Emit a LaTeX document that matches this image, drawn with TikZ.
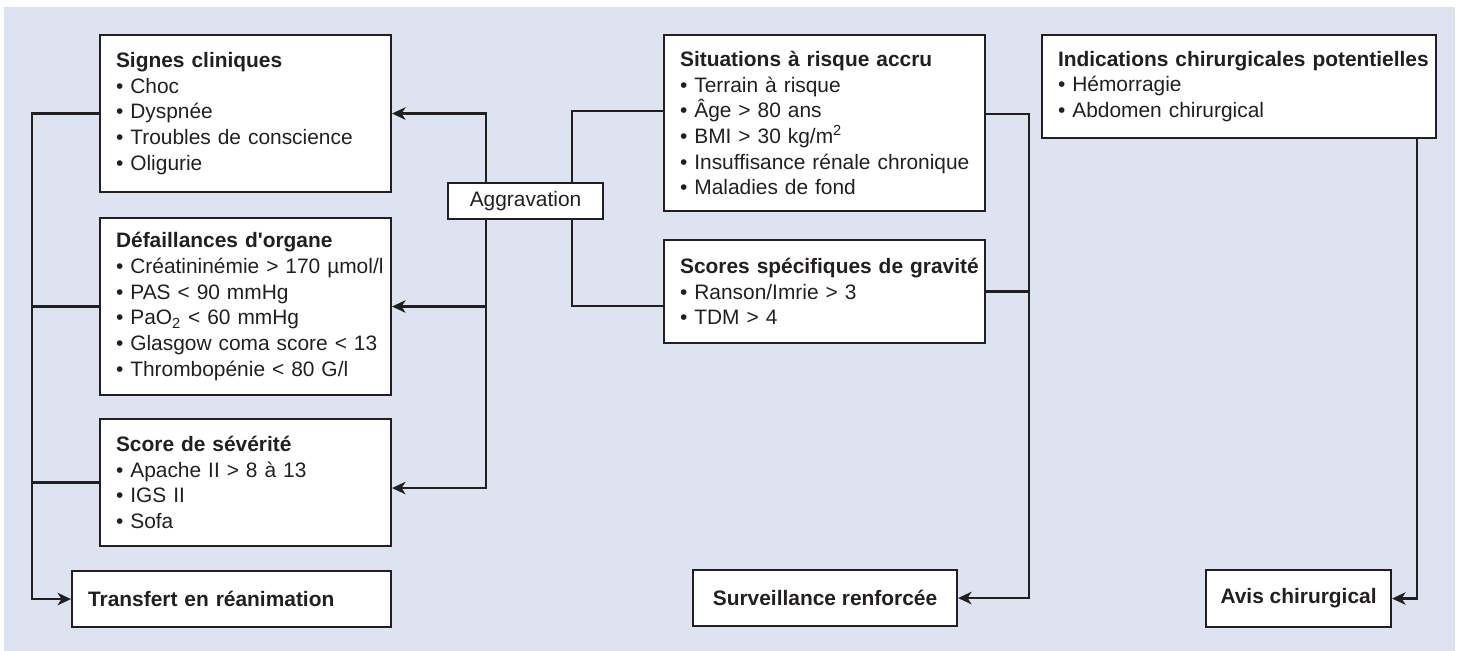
\documentclass[tikz,border=0pt]{standalone}
\usepackage{fontspec}
\setmainfont{Liberation Sans}
\usepackage{tikz}
\usetikzlibrary{arrows.meta}

\definecolor{bgcol}{RGB}{221,227,241}
\definecolor{linec}{RGB}{35,31,32}

\begin{document}
\begin{tikzpicture}[x=0.02cm, y=-0.02cm, line width=1.2pt, color=linec,
  font=\fontsize{11.9}{14.6}\selectfont,
  box/.style={draw=linec, fill=white, anchor=north west, inner xsep=0.32cm, inner ysep=0pt},
  listbox/.style 2 args={box, text width=#1-0.64cm, minimum height=#2, align=left,
    execute at begin node={\rightskip=0pt minus 2cm}},
  endbox/.style 2 args={box, inner xsep=0.2cm, minimum width=#1, minimum height=#2, font=\fontsize{11.9}{14.6}\selectfont\bfseries},
  flow/.style={-{Stealth[length=0.27cm, width=0.25cm, inset=0.08cm]}}]

  \useasboundingbox (0,0) rectangle (1459,651);
  \fill[bgcol] (4,7) rectangle (1455,651);

  % Left column
  \begin{scope}
    \node[listbox={5.82cm}{3.14cm}] (signes) at (99,34)
      {\textbf{Signes cliniques}\\• Choc\\• Dyspnée\\• Troubles de conscience\\• Oligurie};
    \node[listbox={5.82cm}{3.54cm}] (defaill) at (99,217)
      {\textbf{Défaillances d\textquotesingle organe}\\• Créatininémie > 170 µmol/l\\• PAS < 90 mmHg\\• PaO\textsubscript{2} < 60 mmHg\\• Glasgow coma score < 13\\• Thrombopénie < 80 G/l};
    \node[listbox={5.82cm}{2.54cm}] (score) at (99,418)
      {\textbf{Score de sévérité}\\• Apache II > 8 à 13\\• IGS II\\• Sofa};
    \node[listbox={6.38cm}{1.12cm}] (transfert) at (71,570)
      {\textbf{Transfert en réanimation}};

    \coordinate (lbus) at (32,0);
    \draw[flow] (signes.west) -- (signes.west -| lbus) |- (transfert.west);
    \draw (defaill.west) -- (defaill.west -| lbus);
    \draw (score.west) -- (score.west -| lbus);
  \end{scope}

  % Middle column
  \begin{scope}
    \node[box, minimum width=3.1cm, minimum height=0.72cm] (aggrav) at (447,182) {Aggravation};
    \node[listbox={6.42cm}{3.52cm}] (situations) at (663,34)
      {\textbf{Situations à risque accru}\\• Terrain à risque\\• Âge > 80 ans\\• BMI > 30 kg/m\textsuperscript{2}\\• Insuffisance rénale chronique\\• Maladies de fond};
    \node[listbox={6.42cm}{2.06cm}] (scores) at (663,239)
      {\textbf{Scores spécifiques de gravité}\\• Ranson/Imrie > 3\\• TDM > 4};
    \node[endbox={5.28cm}{1.12cm}] (surv) at (692,569) {Surveillance renforcée};

    \coordinate (aleft) at (486,0);
    \coordinate (aright) at (572,0);
    \coordinate (rbus) at (1029,0);
    \draw[flow] (aggrav.north -| aleft) |- (signes.east);
    \draw[flow] (defaill.east -| aleft) -- (defaill.east);
    \draw[flow] (aggrav.south -| aleft) |- ([yshift=-0.11cm]score.east);
    \draw (aggrav.north -| aright) |- ([yshift=0.24cm]situations.west);
    \draw (aggrav.south -| aright) |- ([yshift=-0.29cm]scores.west);
    \draw[flow] ([yshift=0.18cm]situations.east) -| (rbus |- surv.east) -- (surv.east);
    \draw (scores.east) -- (scores.east -| rbus);
  \end{scope}

  % Right column
  \begin{scope}
    \node[listbox={7.88cm}{2.06cm}] (indic) at (1041,34)
      {\textbf{Indications chirurgicales potentielles}\\• Hémorragie\\• Abdomen chirurgical};
    \node[endbox={3.7cm}{1.14cm}] (avis) at (1205,569) {Avis chirurgical};

    \coordinate (ibus) at (1417,0);
    \draw[flow] (indic.south -| ibus) |- (avis.east);
  \end{scope}
\end{tikzpicture}
\end{document}
